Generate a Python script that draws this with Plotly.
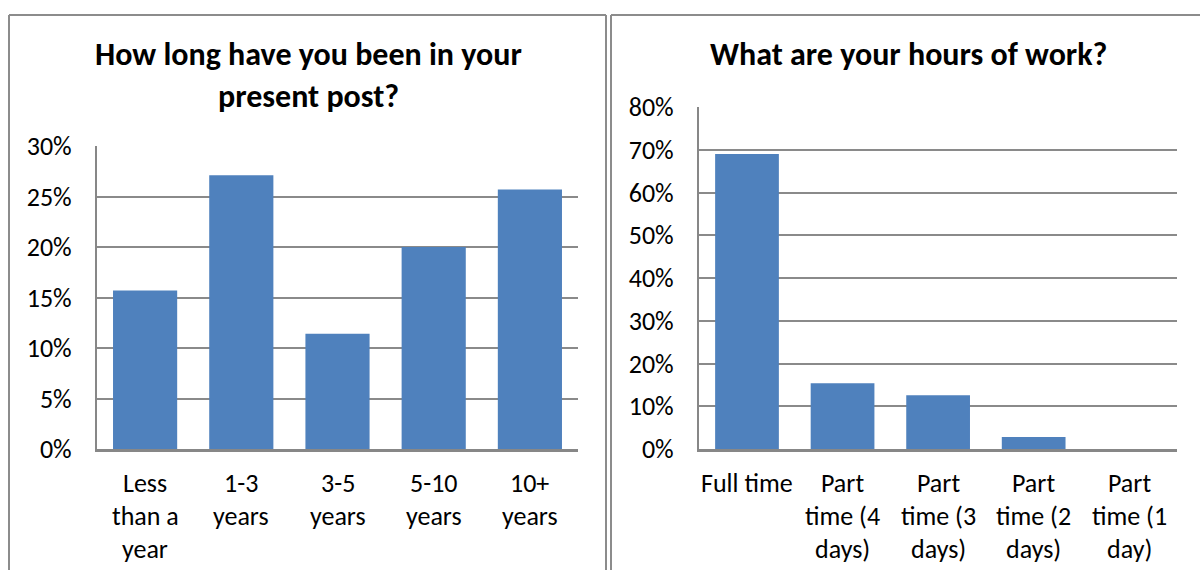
import plotly.graph_objects as go

# Survey results: time in post
tenure_categories = ["Less than a year", "1-3 years", "3-5 years", "5-10 years", "10+ years"]
tenure_labels = [["Less", "than a", "year"], ["1-3", "years"], ["3-5", "years"],
                 ["5-10", "years"], ["10+", "years"]]
tenure_share = [0.157, 0.271, 0.114, 0.200, 0.257]

# Survey results: hours of work
hours_categories = ["Full time", "Part time (4 days)", "Part time (3 days)",
                    "Part time (2 days)", "Part time (1 day)"]
hours_labels = [["Full time"], ["Part", "time (4", "days)"], ["Part", "time (3", "days)"],
                ["Part", "time (2", "days)"], ["Part", "time (1", "day)"]]
hours_share = [0.690, 0.154, 0.126, 0.028, 0.0]

tenure_ticks = [0, 0.05, 0.10, 0.15, 0.20, 0.25, 0.30]
hours_ticks = [0, 0.1, 0.2, 0.3, 0.4, 0.5, 0.6, 0.7, 0.8]

W, H = 1200, 570
FONT = "Carlito, Lato, 'Open Sans', sans-serif"
BAR = "#4F81BD"
GRID = "#8A8A8A"
AXIS = "#878787"
FRAME = "#8C8C8C"
TICK_SIZE = 26
CAT_SIZE = 26
TITLE_SIZE = 32


def px_x(x):
    return x / W


def px_y(y):
    return 1 - y / H


fig = go.Figure()

fig.add_trace(go.Bar(x=tenure_categories, y=tenure_share,
                     marker=dict(color=BAR, line=dict(width=0)),
                     xaxis="x", yaxis="y", showlegend=False))
fig.add_trace(go.Bar(x=hours_categories, y=hours_share,
                     marker=dict(color=BAR, line=dict(width=0)),
                     xaxis="x2", yaxis="y2", showlegend=False))

common_x = dict(showticklabels=False, showline=True, linecolor=AXIS, linewidth=2.5,
                showgrid=False, ticks="", fixedrange=True, automargin=False)
common_y = dict(tickformat=".0%", showgrid=True, gridcolor=GRID, gridwidth=1.8,
                showline=True, linecolor=AXIS, linewidth=2.2, zeroline=False, ticks="",
                automargin=False,
                tickfont=dict(family=FONT, size=TICK_SIZE, color="#000000"), ticklabelstandoff=18)

fig.update_layout(
    width=W, height=H,
    margin=dict(l=0, r=0, t=0, b=0, autoexpand=False),
    paper_bgcolor="white", plot_bgcolor="white",
    bargap=0.333,
    xaxis=dict(domain=[px_x(97), px_x(578)], anchor="y", **common_x),
    yaxis=dict(domain=[px_y(449), px_y(146)], anchor="x", range=[0, 0.30],
               tickvals=tenure_ticks, **common_y),
    xaxis2=dict(domain=[px_x(699), px_x(1177)], anchor="y2", **common_x),
    yaxis2=dict(domain=[px_y(449), px_y(107)], anchor="x2", range=[0, 0.80],
                tickvals=hours_ticks, **common_y),
)

annotations = []
# Multi-line category labels under each bar
for axis_x, axis_y, cats, labels in (("x", "y", tenure_categories, tenure_labels),
                                     ("x2", "y2", hours_categories, hours_labels)):
    for cat, lines in zip(cats, labels):
        for i, line in enumerate(lines):
            annotations.append(dict(x=cat, y=0, xref=axis_x, yref=axis_y, text=line,
                                    showarrow=False, yanchor="middle", yshift=-34 - 33 * i,
                                    font=dict(family=FONT, size=CAT_SIZE, color="#000000")))

# Chart titles
annotations.append(dict(x=px_x(308), y=px_y(55), xref="paper", yref="paper",
                        text="<b>How long have you been in your</b>",
                        showarrow=False, xanchor="center", yanchor="middle",
                        font=dict(family=FONT, size=TITLE_SIZE, color="#000000")))
annotations.append(dict(x=px_x(308), y=px_y(97), xref="paper", yref="paper",
                        text="<b>present post?</b>",
                        showarrow=False, xanchor="center", yanchor="middle",
                        font=dict(family=FONT, size=TITLE_SIZE, color="#000000")))
annotations.append(dict(x=px_x(908), y=px_y(55), xref="paper", yref="paper",
                        text="<b>What are your hours of work?</b>",
                        showarrow=False, xanchor="center", yanchor="middle",
                        font=dict(family=FONT, size=TITLE_SIZE, color="#000000")))
fig.update_layout(annotations=annotations)

# Panel frames
frame = dict(type="line", xref="paper", yref="paper", line=dict(color=FRAME, width=2))
shapes = [
    dict(frame, x0=px_x(9), x1=px_x(606), y0=px_y(15), y1=px_y(15)),
    dict(frame, x0=px_x(9), x1=px_x(9), y0=px_y(15), y1=0),
    dict(frame, x0=px_x(606), x1=px_x(606), y0=px_y(15), y1=0),
    dict(frame, x0=px_x(611), x1=px_x(611), y0=px_y(15), y1=0),
    dict(frame, x0=px_x(611), x1=1, y0=px_y(15), y1=px_y(15)),
]
fig.update_layout(shapes=shapes)

fig.write_html("out.html")
